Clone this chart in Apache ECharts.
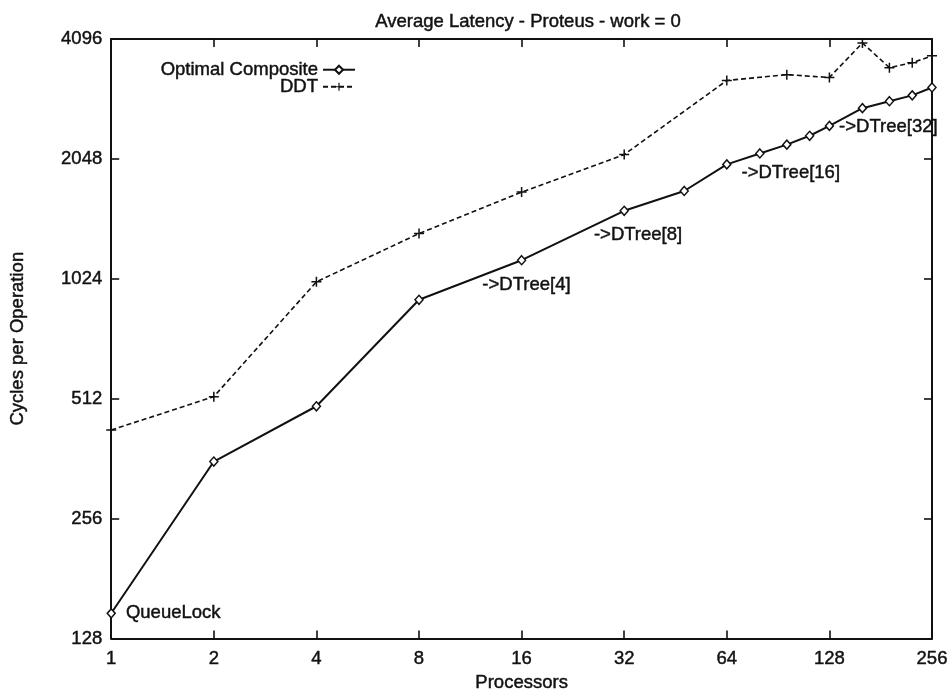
<!DOCTYPE html>
<html>
<head>
<meta charset="utf-8">
<style>
  html, body { margin: 0; padding: 0; background: #fff; }
  #chart { width: 952px; height: 698px; }
</style>
<script src="https://cdn.jsdelivr.net/npm/echarts@6/dist/echarts.min.js"></script>
</head>
<body>
<div id="chart"></div>
<script>
// Processor counts and average latency (cycles per operation)
const procsComposite = [1, 2, 4, 8, 16, 32, 48, 64, 80, 96, 112, 128, 160, 192, 224, 256];
const latencyComposite = [148, 356, 490, 907, 1140, 1517, 1701, 1984, 2113, 2224, 2341, 2478, 2746, 2858, 2957, 3095];

const procsDDT = [1, 2, 4, 8, 16, 32, 64, 96, 128, 160, 192, 224, 256];
const latencyDDT = [427, 518, 1006, 1330, 1690, 2100, 3222, 3333, 3279, 4003, 3471, 3571, 3716];

// Annotations attached to points of the composite curve: processors -> text
const annotations = {
  1: 'QueueLock',
  16: '->DTree[4]',
  32: '->DTree[8]',
  64: '->DTree[16]',
  128: '->DTree[32]'
};
const annotationOffsets = {
  1: [10, 0],
  16: [-44, 25],
  32: [-35, 24],
  64: [10, 9],
  128: [5, 1]
};

const FONT = '"Liberation Sans", Arial, Helvetica, sans-serif';
const INK = '#111';
const FS = 18.5;
// slightly heavier glyphs, like the printed original
const heavy = { textBorderColor: INK, textBorderWidth: 0.45 };

const compositeData = procsComposite.map((p, i) => {
  const item = { value: [p, latencyComposite[i]] };
  if (annotations[p]) {
    item.label = Object.assign({
      show: true,
      formatter: annotations[p],
      position: 'right',
      distance: 0,
      offset: annotationOffsets[p],
      fontFamily: FONT,
      fontSize: FS,
      color: INK
    }, heavy);
  }
  return item;
});
const ddtData = procsDDT.map((p, i) => [p, latencyDDT[i]]);

const plusPath = 'path://M4.25,0H5.75V4.25H10V5.75H5.75V10H4.25V5.75H0V4.25H4.25Z';

const axisLineStyle = { lineStyle: { color: INK, width: 2 } };
const tickStyle = { show: true, inside: true, length: 8, lineStyle: { color: INK, width: 1.6 } };
const textStyle = Object.assign({ fontFamily: FONT, fontSize: FS, color: INK }, heavy);
const plainNumber = v => String(Math.round(v));

const chart = echarts.init(document.getElementById('chart'), null, { renderer: 'canvas' });
chart.setOption({
  animation: false,
  backgroundColor: '#fff',
  title: {
    text: 'Average Latency - Proteus - work = 0',
    left: 523,
    textAlign: 'center',
    top: 7,
    textStyle: Object.assign({ fontWeight: 'normal' }, textStyle)
  },
  legend: [
    {
      data: ['Optimal Composite'],
      orient: 'vertical',
      align: 'right',
      right: 591,
      top: 55,
      itemWidth: 32,
      itemHeight: 10,
      textStyle: textStyle
    },
    {
      data: ['DDT'],
      orient: 'vertical',
      align: 'right',
      right: 591,
      top: 72,
      itemWidth: 32,
      itemHeight: 10,
      textStyle: textStyle
    }
  ],
  grid: { left: 111, right: 20, top: 39, bottom: 51, containLabel: false },
  xAxis: [
    {
      type: 'log', logBase: 2, min: 1, max: 256, position: 'bottom',
      name: 'Processors', nameLocation: 'middle', nameGap: 29,
      nameTextStyle: textStyle,
      axisLine: axisLineStyle, axisTick: tickStyle,
      axisLabel: Object.assign({ margin: 11, formatter: plainNumber }, textStyle),
      splitLine: { show: false }, minorTick: { show: false }
    },
    {
      type: 'log', logBase: 2, min: 1, max: 256, position: 'top',
      axisLine: axisLineStyle, axisTick: tickStyle,
      axisLabel: { show: false }, splitLine: { show: false }
    }
  ],
  yAxis: [
    {
      type: 'log', logBase: 2, min: 128, max: 4096, position: 'left',
      name: 'Cycles per Operation', nameLocation: 'middle', nameGap: 84,
      nameTextStyle: textStyle,
      axisLine: axisLineStyle, axisTick: tickStyle,
      axisLabel: Object.assign({ margin: 9, formatter: plainNumber }, textStyle),
      splitLine: { show: false }, minorTick: { show: false }
    },
    {
      type: 'log', logBase: 2, min: 128, max: 4096, position: 'right',
      axisLine: axisLineStyle, axisTick: tickStyle,
      axisLabel: { show: false }, splitLine: { show: false }
    }
  ],
  series: [
    {
      name: 'Optimal Composite',
      type: 'line',
      xAxisIndex: 0, yAxisIndex: 0,
      data: compositeData,
      symbol: 'diamond',
      symbolSize: [8, 9],
      showAllSymbol: true,
      lineStyle: { color: INK, width: 2, type: 'solid' },
      itemStyle: { color: '#fff', borderColor: INK, borderWidth: 1.5 },
      emphasis: { disabled: true },
      z: 3
    },
    {
      name: 'DDT',
      type: 'line',
      xAxisIndex: 0, yAxisIndex: 0,
      data: ddtData,
      symbol: plusPath,
      symbolSize: 10,
      showAllSymbol: true,
      lineStyle: { color: INK, width: 1.6, type: [5, 3] },
      itemStyle: { color: INK, borderWidth: 0 },
      emphasis: { disabled: true },
      z: 2
    }
  ]
});
</script>
</body>
</html>
